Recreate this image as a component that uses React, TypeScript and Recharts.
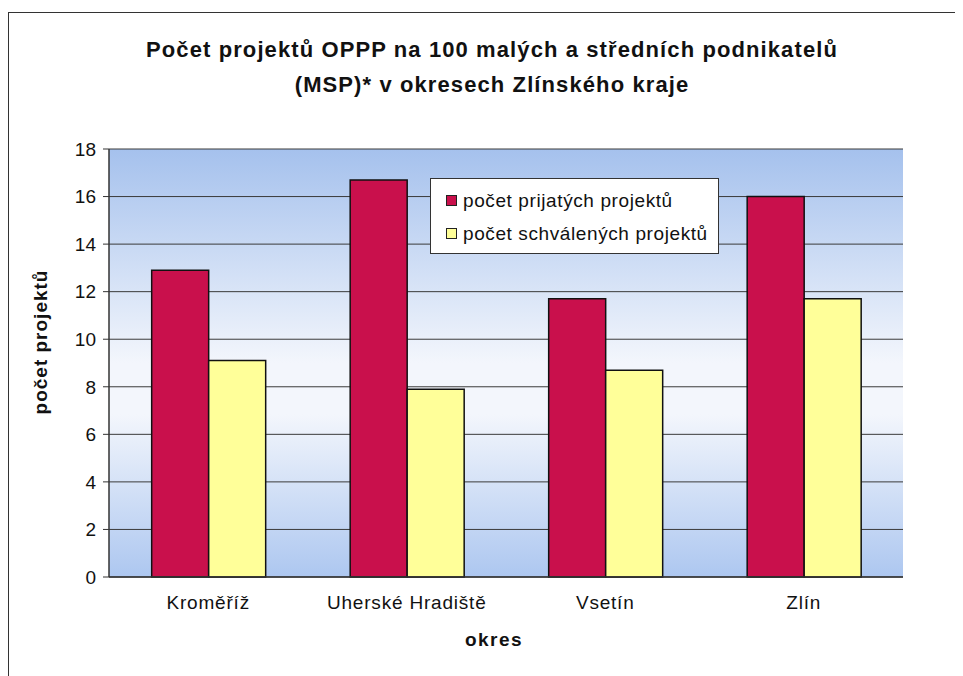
import { BarChart, Bar, XAxis, YAxis, CartesianGrid } from 'recharts';

const okresy = ['Kroměříž', 'Uherské Hradiště', 'Vsetín', 'Zlín'];
const prijate = [12.9, 16.7, 11.7, 16.0];
const schvalene = [9.1, 7.9, 8.7, 11.7];
const yTicks = [0, 2, 4, 6, 8, 10, 12, 14, 16, 18];

const data = okresy.map((okres, i) => ({
  okres,
  prijate: prijate[i],
  schvalene: schvalene[i],
}));

const font = '"Liberation Sans", Arial, sans-serif';
const RED = '#c9104c';
const YELLOW = '#ffff99';

function LegendBox() {
  const items = [
    { label: 'počet prijatých projektů', color: RED },
    { label: 'počet schválených projektů', color: YELLOW },
  ];
  return (
    <div
      style={{
        position: 'absolute',
        left: 421,
        top: 165,
        width: 289,
        height: 76,
        background: '#fff',
        border: '1px solid #333',
        boxSizing: 'border-box',
        padding: '5px 0 0 15px',
      }}
    >
      {items.map((it) => (
        <div
          key={it.label}
          style={{ display: 'flex', alignItems: 'center', height: 33, fontFamily: font, fontSize: 19, letterSpacing: 0.6, color: '#111' }}
        >
          <span style={{ display: 'inline-block', width: 9, height: 9, background: it.color, border: '1px solid #222', marginRight: 6 }} />
          {it.label}
        </div>
      ))}
    </div>
  );
}

export default function App() {
  return (
    <div
      style={{
        position: 'relative',
        width: 955,
        height: 668,
        borderTop: '1px solid #333',
        borderLeft: '1px solid #333',
        boxSizing: 'border-box',
        marginTop: 4,
        background: '#fff',
      }}
    >
      <div
        style={{
          position: 'absolute',
          left: 0,
          width: 966,
          top: 19,
          textAlign: 'center',
          fontFamily: font,
          fontWeight: 'bold',
          fontSize: 22,
          letterSpacing: 1.1,
          lineHeight: '35px',
          color: '#111',
        }}
      >
        Počet projektů OPPP na 100 malých a středních podnikatelů
        <br />
        (MSP)* v okresech Zlínského kraje
      </div>
      <div
        style={{
          position: 'absolute',
          left: 32,
          top: 329,
          transform: 'translate(-50%, -50%) rotate(-90deg)',
          whiteSpace: 'nowrap',
          fontFamily: font,
          fontWeight: 'bold',
          fontSize: 19,
          letterSpacing: 1,
          color: '#111',
        }}
      >
        počet projektů
      </div>
      <div
        style={{
          position: 'absolute',
          left: 0,
          width: 970,
          top: 616,
          textAlign: 'center',
          fontFamily: font,
          fontWeight: 'bold',
          fontSize: 19,
          letterSpacing: 1.5,
          color: '#111',
        }}
      >
        okres
      </div>
      <BarChart
        width={954}
        height={663}
        data={data}
        margin={{ top: 136, right: 60, bottom: 69, left: 40 }}
        barCategoryGap="21.5%"
        barGap={0}
      >
        <defs>
          <linearGradient id="plotBg" x1="0" y1="0" x2="0" y2="1">
            <stop offset="0%" stopColor="#a5c1ed" />
            <stop offset="50%" stopColor="#f3f6fc" />
            <stop offset="62%" stopColor="#f3f6fc" />
            <stop offset="100%" stopColor="#adc7f0" />
          </linearGradient>
        </defs>
        <CartesianGrid vertical={false} stroke="#3a3a3a" strokeWidth={1} fill="url(#plotBg)" fillOpacity={1} />
        <XAxis
          dataKey="okres"
          height={30}
          tickLine={false}
          axisLine={{ stroke: '#333', strokeWidth: 1.5 }}
          tick={{ fontFamily: font, fontSize: 19, fill: '#111', letterSpacing: 0.8 }}
          tickMargin={13}
          interval={0}
        />
        <YAxis
          domain={[0, 18]}
          ticks={yTicks}
          width={60}
          axisLine={{ stroke: '#333', strokeWidth: 1.5 }}
          tickLine={{ stroke: '#333' }}
          tickSize={6}
          tickMargin={7}
          tick={{ fontFamily: font, fontSize: 19, fill: '#111' }}
        />
        <YAxis
          yAxisId="r"
          orientation="right"
          domain={[0, 18]}
          width={0}
          tick={false}
          tickLine={false}
          axisLine={{ stroke: '#888' }}
        />
        <Bar dataKey="prijate" fill={RED} stroke="#111" strokeWidth={1.5} isAnimationActive={false} />
        <Bar dataKey="schvalene" fill={YELLOW} stroke="#111" strokeWidth={1.5} isAnimationActive={false} />
      </BarChart>
      <LegendBox />
    </div>
  );
}
